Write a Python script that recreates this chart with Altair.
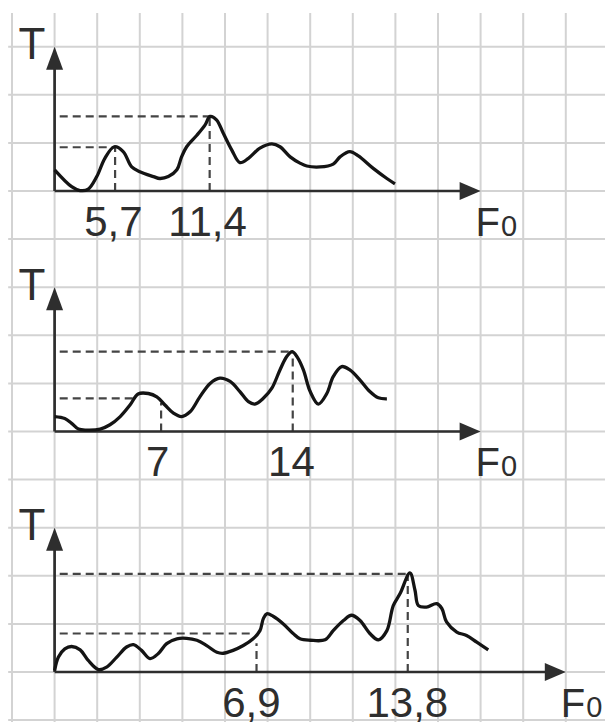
import altair as alt
import pandas as pd

# ---------------- data (in grid-cell units of the squared paper) ----------------
GRID_COLS = list(range(0, 14))      # vertical grid lines
GRID_ROWS = list(range(0, 15))      # horizontal grid lines
GRID_TOP = -0.70
GRID_LEFT = -0.09

ORIGIN_COL = 1
ORIGIN_ROWS = [3, 8, 13]            # row of each F0 axis
F_AXIS_LEN = [10, 10, 12]
T_AXIS_LEN = [3, 3, 3]

# curve 1
p1_f = [0.0, 0.40, 0.60, 0.79, 0.99, 1.18, 1.40, 1.61, 1.81, 2.00, 2.32, 2.47, 2.67, 2.87,
        2.98, 3.10, 3.34, 3.53, 3.65, 3.80, 3.96, 4.16, 4.35, 4.55, 4.82, 5.10, 5.29, 5.53,
        5.76, 5.92, 6.23, 6.54, 6.70, 6.93, 7.13, 7.48, 7.80, 7.99]
p1_t = [0.44, 0.09, 0.01, 0.04, 0.30, 0.68, 0.92, 0.82, 0.50, 0.40, 0.30, 0.26, 0.30, 0.44,
        0.71, 0.92, 1.16, 1.37, 1.55, 1.48, 1.20, 0.85, 0.59, 0.68, 0.89, 0.98, 0.92, 0.71,
        0.58, 0.52, 0.50, 0.56, 0.71, 0.82, 0.73, 0.47, 0.26, 0.15]
# curve 2
p2_f = [0.0, 0.24, 0.40, 0.56, 0.75, 1.07, 1.30, 1.54, 1.77, 1.96, 2.20, 2.40, 2.59, 2.79,
        2.98, 3.18, 3.41, 3.65, 3.88, 4.12, 4.35, 4.55, 4.70, 4.90, 5.10, 5.29, 5.45, 5.58,
        5.70, 5.84, 6.00, 6.19, 6.39, 6.54, 6.74, 6.93, 7.17, 7.40, 7.60, 7.80]
p2_t = [0.31, 0.27, 0.17, 0.05, 0.03, 0.05, 0.14, 0.31, 0.55, 0.78, 0.79, 0.72, 0.55, 0.38,
        0.31, 0.41, 0.72, 1.00, 1.11, 1.04, 0.83, 0.62, 0.57, 0.69, 0.90, 1.28, 1.56, 1.66,
        1.54, 1.28, 0.83, 0.57, 0.79, 1.14, 1.35, 1.28, 1.07, 0.83, 0.70, 0.68]
# curve 3
p3_f = [0.0, 0.09, 0.24, 0.40, 0.60, 0.79, 1.03, 1.22, 1.46, 1.69, 1.85, 2.04, 2.24, 2.43,
        2.63, 2.87, 3.10, 3.34, 3.57, 3.81, 3.96, 4.19, 4.43, 4.66, 4.82, 4.90, 4.98, 5.13,
        5.37, 5.60, 5.76, 6.00, 6.35, 6.54, 6.78, 6.97, 7.17, 7.40, 7.60, 7.80, 7.95, 8.11,
        8.34, 8.46, 8.54, 8.73, 8.97, 9.09, 9.20, 9.44, 9.67, 9.91, 10.18]
p3_t = [0.03, 0.31, 0.48, 0.53, 0.46, 0.24, 0.05, 0.10, 0.31, 0.52, 0.57, 0.45, 0.28, 0.38,
        0.59, 0.69, 0.70, 0.66, 0.55, 0.41, 0.39, 0.45, 0.55, 0.69, 0.86, 1.11, 1.21, 1.16,
        1.00, 0.80, 0.69, 0.66, 0.67, 0.86, 1.07, 1.18, 1.07, 0.80, 0.67, 0.86, 1.38, 1.63,
        2.06, 1.70, 1.38, 1.35, 1.42, 1.32, 1.04, 0.83, 0.76, 0.62, 0.46]

CURVES = [(p1_f, p1_t), (p2_f, p2_t), (p3_f, p3_t)]

# marked maxima: (panel, position of vertical dash, height of vertical dash,
#                 level of horizontal dash, end of horizontal dash, label)
MARK_PANEL = [0, 0, 1, 1, 2, 2]
MARK_X = [1.42, 3.64, 2.50, 5.59, 4.74, 8.29]
MARK_VTOP = [0.91, 1.55, 0.60, 1.66, 0.60, 2.04]
MARK_LEVEL = [0.91, 1.55, 0.69, 1.66, 0.80, 2.04]
MARK_HEND = [1.40, 3.64, 1.84, 5.59, 4.66, 8.34]
MARK_LABEL = ["5,7", "11,4", "7", "14", "6,9", "13,8"]
MARK_LABEL_X = [1.38, 3.59, 2.42, 5.56, 4.62, 8.28]

# ---------------- build tables ----------------
X_DOMAIN = [-12 / 42.6, (605 - 12) / 42.6]
Y_DOMAIN = [(722 - 46.7) / 48.1, -46.7 / 48.1]

vgrid = pd.DataFrame({"x": GRID_COLS, "y": GRID_TOP, "y2": Y_DOMAIN[0]})
hgrid = pd.DataFrame({"y": GRID_ROWS, "x": GRID_LEFT, "x2": X_DOMAIN[1]})

curve_rows = []
for i, (fs, ts) in enumerate(CURVES):
    for k, (f, t) in enumerate(zip(fs, ts)):
        curve_rows.append({"panel": i, "order": k,
                           "x": ORIGIN_COL + f, "y": ORIGIN_ROWS[i] - t})
curves = pd.DataFrame(curve_rows)

axis_rows, head_up, head_right = [], [], []
for i in range(3):
    r = ORIGIN_ROWS[i]
    axis_rows.append({"x": ORIGIN_COL, "y": r, "x2": ORIGIN_COL + F_AXIS_LEN[i] - 0.3, "y2": r})
    axis_rows.append({"x": ORIGIN_COL, "y": r, "x2": ORIGIN_COL, "y2": r - T_AXIS_LEN[i] + 0.3})
    head_up.append({"x": ORIGIN_COL, "y": r - T_AXIS_LEN[i]})
    head_right.append({"x": ORIGIN_COL + F_AXIS_LEN[i], "y": r})
axes_df = pd.DataFrame(axis_rows)
head_up = pd.DataFrame(head_up)
head_right = pd.DataFrame(head_right)

dash_rows, tick_rows = [], []
for p, mx, vt, lv, he, lab, lx in zip(MARK_PANEL, MARK_X, MARK_VTOP, MARK_LEVEL,
                                      MARK_HEND, MARK_LABEL, MARK_LABEL_X):
    r = ORIGIN_ROWS[p]
    dash_rows.append({"x": ORIGIN_COL + mx, "x2": ORIGIN_COL + mx, "y": r, "y2": r - vt})
    dash_rows.append({"x": ORIGIN_COL + 0.12, "x2": ORIGIN_COL + he, "y": r - lv, "y2": r - lv})
    tick_rows.append({"x": ORIGIN_COL + lx, "y": r + 0.93, "label": lab})
dashes = pd.DataFrame(dash_rows)
ticks = pd.DataFrame(tick_rows)

t_labels = pd.DataFrame({"x": [ORIGIN_COL - 0.53] * 3,
                         "y": [r - 2.74 for r in ORIGIN_ROWS], "label": ["T"] * 3})
f_labels = pd.DataFrame({"x": [ORIGIN_COL + L - 0.12 for L in F_AXIS_LEN],
                         "y": [r + 0.93 for r in ORIGIN_ROWS], "label": ["F"] * 3})
f_subs = pd.DataFrame({"x": [ORIGIN_COL + L + 0.48 for L in F_AXIS_LEN],
                       "y": [r + 0.93 for r in ORIGIN_ROWS], "label": ["0"] * 3})

# ---------------- chart ----------------
xs = alt.Scale(domain=X_DOMAIN, nice=False, zero=False)
ys = alt.Scale(domain=Y_DOMAIN, nice=False, zero=False)
X = lambda f="x": alt.X(f, type="quantitative", scale=xs, axis=None)
Y = lambda f="y": alt.Y(f, type="quantitative", scale=ys, axis=None)

GRID_C = "#d3d3d3"
INK = "#2e2e2e"
FONT = "Liberation Sans"

vg = alt.Chart(vgrid).mark_rule(color=GRID_C, strokeWidth=2).encode(
    x=X(), y=Y(), y2="y2:Q")
hg = alt.Chart(hgrid).mark_rule(color=GRID_C, strokeWidth=2).encode(
    y=Y(), x=X(), x2="x2:Q")

dl = alt.Chart(dashes).mark_rule(color="#444444", strokeWidth=2.2, strokeDash=[8, 5]).encode(
    x=X(), y=Y(), x2="x2:Q", y2="y2:Q")

ax = alt.Chart(axes_df).mark_rule(color=INK, strokeWidth=2.7).encode(
    x=X(), y=Y(), x2="x2:Q", y2="y2:Q")

hu = alt.Chart(head_up).mark_point(
    shape="M0,0L0.85,2.3L-0.85,2.3Z", size=400, filled=True, color=INK,
    opacity=1, strokeWidth=0).encode(x=X(), y=Y())
hr = alt.Chart(head_right).mark_point(
    shape="M0,0L-2.1,-0.9L-2.1,0.9Z", size=400, filled=True, color=INK,
    opacity=1, strokeWidth=0).encode(x=X(), y=Y())

cv = alt.Chart(curves).mark_line(color="#141414", strokeWidth=3.3,
                                 interpolate="catmull-rom").encode(
    x=X(), y=Y(), detail="panel:N", order="order:Q")

tk = alt.Chart(ticks).mark_text(font=FONT, fontSize=42, color=INK, align="center",
                                baseline="alphabetic").encode(x=X(), y=Y(), text="label:N")
tl = alt.Chart(t_labels).mark_text(font=FONT, fontSize=44, color=INK, align="center",
                                   baseline="alphabetic").encode(x=X(), y=Y(), text="label:N")
fl = alt.Chart(f_labels).mark_text(font=FONT, fontSize=40, color=INK, align="left",
                                   baseline="alphabetic").encode(x=X(), y=Y(), text="label:N")
fs_ = alt.Chart(f_subs).mark_text(font=FONT, fontSize=29, color=INK, align="left",
                                  baseline="alphabetic").encode(x=X(), y=Y(), text="label:N")

chart = alt.layer(vg, hg, dl, ax, hu, hr, cv, tk, tl, fl, fs_).properties(
    width=605, height=722, padding=0, autosize=alt.AutoSizeParams(type="none"),
    background="white"
).configure_view(stroke=None)

chart.save("out.html", embed_options={"renderer": "svg", "actions": False})
